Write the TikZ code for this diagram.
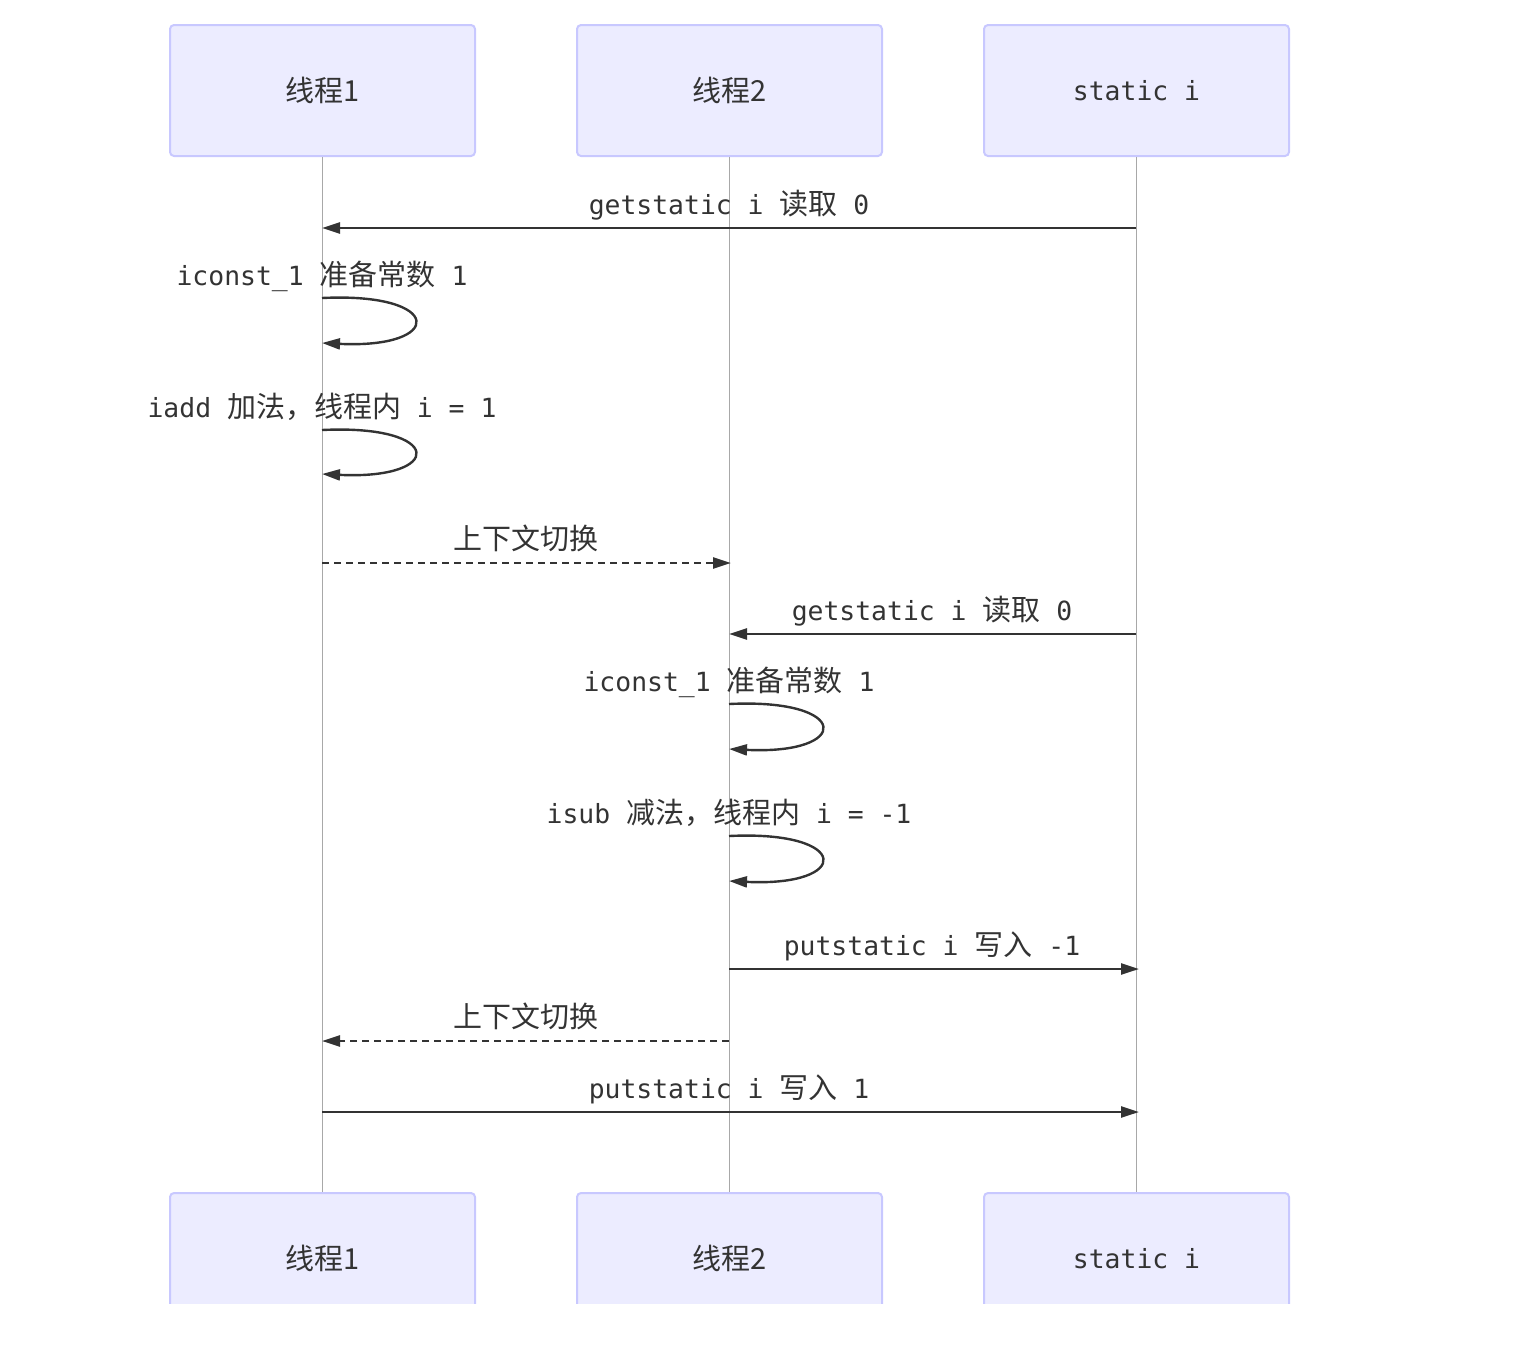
\documentclass[tikz,border=0pt]{standalone}
\usepackage{fontspec}
\setmonofont{DejaVu Sans Mono}
\newfontfamily\cjk{Noto Sans CJK SC}
\usetikzlibrary{arrows.meta,calc}
\definecolor{txt}{HTML}{333333}
\definecolor{actorfill}{HTML}{ECECFF}
\definecolor{actorborder}{HTML}{C8C8FF}
\definecolor{lifegray}{HTML}{A8A8A8}
\newcommand\zh[1]{{\fontsize{14.5pt}{17pt}\cjk #1}}
\tikzset{
  actor/.style={draw=actorborder, fill=actorfill, line width=1pt, rounded corners=2pt,
    minimum width=152.5pt, minimum height=65.5pt, inner sep=0pt, text=txt},
  lifeline/.style={draw=lifegray, line width=0.7pt},
  msg/.style={draw=txt, line width=1.2pt, -{Triangle[length=9pt,width=5.5pt]}},
  dmsg/.style={msg, dash pattern=on 3.5pt off 2.5pt},
  lbl/.style={anchor=base, inner sep=0pt, text=txt, font=\fontsize{13.2pt}{15pt}\ttfamily},
}
\begin{document}
\begin{tikzpicture}[x=0.5pt,y=-0.5pt]
\useasboundingbox (0,0) rectangle (1514,1350);
% top actors
\node[actor] (t1) at (322.5,90.5) {\zh{线程1}};
\node[actor] (t2) at (729.5,90.5) {\zh{线程2}};
\node[actor] (t3) at (1136.5,90.5) {\fontsize{13.2pt}{15pt}\ttfamily static i};
% bottom actors (clipped)
\begin{scope}
\clip (0,0) rectangle (1514,1303);
\node[actor] (b1) at (322.5,1258.5) {\zh{线程1}};
\node[actor] (b2) at (729.5,1258.5) {\zh{线程2}};
\node[actor] (b3) at (1136.5,1258.5) {\fontsize{13.2pt}{15pt}\ttfamily static i};
\end{scope}
% lifelines
\draw[lifeline] (t1.south) -- (b1.north);
\draw[lifeline] (t2.south) -- (b2.north);
\draw[lifeline] (t3.south) -- (b3.north);
% message endpoints
\coordinate (m1a) at (1136,228);  \coordinate (m1b) at (322,228);
\coordinate (l1a) at (322,298);   \coordinate (l1b) at (322,343);
\coordinate (l2a) at (322,430);   \coordinate (l2b) at (322,474);
\coordinate (m4a) at (322,563);   \coordinate (m4b) at (731,563);
\coordinate (m5a) at (1136,634);  \coordinate (m5b) at (729,634);
\coordinate (l3a) at (729,704);   \coordinate (l3b) at (729,749);
\coordinate (l4a) at (729,836);   \coordinate (l4b) at (729,881);
\coordinate (m8a) at (729,969);   \coordinate (m8b) at (1139,969);
\coordinate (m9a) at (729,1041);  \coordinate (m9b) at (322,1041);
\coordinate (m10a) at (322,1112); \coordinate (m10b) at (1139,1112);
% messages
\draw[msg] (m1a) -- (m1b);
\node[lbl] (n1) at (729,214) {getstatic i \zh{读取} 0};
\draw[msg] (l1a) .. controls (445,292) and (445,349) .. (l1b);
\node[lbl] (n2) at (322,285) {iconst\_1 \zh{准备常数} 1};
\draw[msg] (l2a) .. controls (445,424) and (445,480) .. (l2b);
\node[lbl] (n3) at (322,417) {iadd \zh{加法，线程内} i = 1};
\draw[dmsg] (m4a) -- (m4b);
\node[lbl] (n4) at (526,549) {\zh{上下文切换}};
\draw[msg] (m5a) -- (m5b);
\node[lbl] (n5) at (932,620) {getstatic i \zh{读取} 0};
\draw[msg] (l3a) .. controls (852,698) and (852,755) .. (l3b);
\node[lbl] (n6) at (729,691) {iconst\_1 \zh{准备常数} 1};
\draw[msg] (l4a) .. controls (852,830) and (852,887) .. (l4b);
\node[lbl] (n7) at (729,823) {isub \zh{减法，线程内} i = -1};
\draw[msg] (m8a) -- (m8b);
\node[lbl] (n8) at (932,955) {putstatic i \zh{写入} -1};
\draw[dmsg] (m9a) -- (m9b);
\node[lbl] (n9) at (526,1027) {\zh{上下文切换}};
\draw[msg] (m10a) -- (m10b);
\node[lbl] (n10) at (729,1098) {putstatic i \zh{写入} 1};
\end{tikzpicture}
\end{document}
